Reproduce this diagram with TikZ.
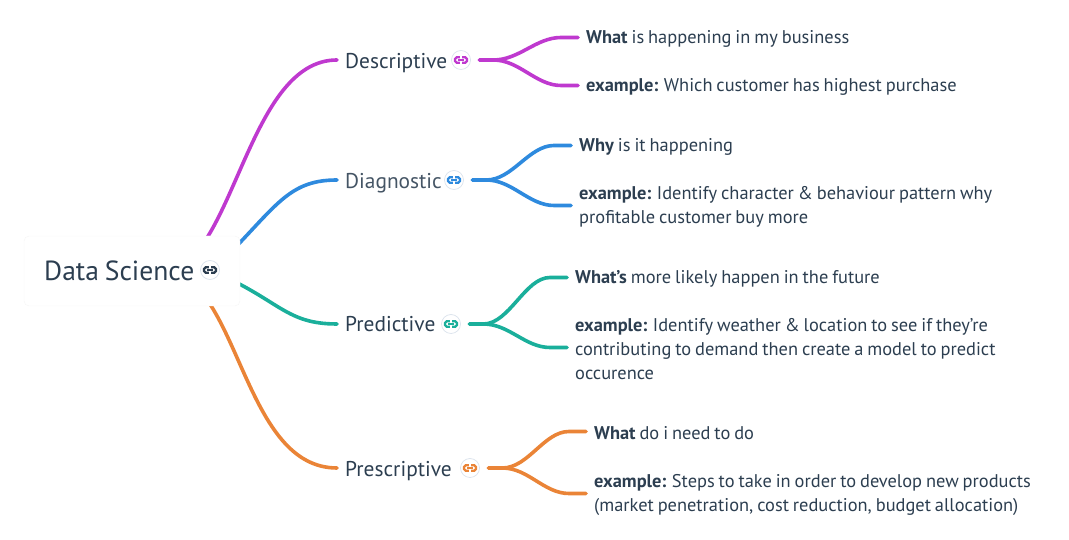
\documentclass[tikz,border=0pt]{standalone}
\usepackage{fontspec}
\setmainfont[WordSpace=0.8]{PT Sans}
\usetikzlibrary{positioning, calc, backgrounds}
\definecolor{msdark}{RGB}{44,62,80}
\definecolor{mspurple}{RGB}{191,57,207}
\definecolor{msblue}{RGB}{46,138,222}
\definecolor{msteal}{RGB}{26,175,155}
\definecolor{msorange}{RGB}{234,132,55}
\definecolor{msring}{RGB}{218,226,236}
\tikzset{
  rootbox/.style={fill=white, draw=black!4, rounded corners=5pt, minimum width=216pt, minimum height=70pt, inner sep=0pt},
  topic/.style={msdark, font=\fontsize{21.4}{25}\selectfont, anchor=west, inner sep=0pt},
  leaf/.style={msdark, font=\fontsize{18.4}{24}\selectfont, anchor=west, inner sep=0pt, align=left},
  branch/.style={line width=3.6pt, line cap=round},
  iconring/.style={circle, draw=msring, fill=white, line width=0.7pt, minimum size=19pt, inner sep=0pt}
}
% small chain icon on a ring
\newcommand{\linkicon}[3]{
  \node[iconring] (#1) at (#2) {};
  \draw[#3, line width=2.2pt, rounded corners=1.8pt] ($(#1)+(-1.2,2.8)$) -- ($(#1)+(-6,2.8)$) -- ($(#1)+(-6,-2.8)$) -- ($(#1)+(-1.2,-2.8)$);
  \draw[#3, line width=2.2pt, rounded corners=1.8pt] ($(#1)+(1.2,2.8)$) -- ($(#1)+(6,2.8)$) -- ($(#1)+(6,-2.8)$) -- ($(#1)+(1.2,-2.8)$);
  \draw[#3, line width=1.7pt] ($(#1)+(-2.6,0)$) -- ($(#1)+(2.6,0)$);
}
\begin{document}
\begin{tikzpicture}[x=1pt, y=1pt]
\useasboundingbox (0,0) rectangle (1069,540);

% root
\node[rootbox] (root) at (132,269) {};
\node[msdark, font=\fontsize{27.6}{30}\selectfont, anchor=west, inner sep=0pt] (rootlbl) at (44,269) {Data Science};
\linkicon{rooticon}{210,270}{msdark}

% ---- topics ----
\node[topic] (desc) at (345,477) {Descriptive};
\linkicon{descicon}{461,480}{mspurple}
\node[topic, msdark!88] (diag) at (345,357) {Diagnostic};
\linkicon{diagicon}{454,360}{msblue}
\node[topic] (pred) at (345,216) {Predictive};
\linkicon{predicon}{451,216}{msteal}
\node[topic] (pres) at (345,69) {Prescriptive};
\linkicon{presicon}{470,72}{msorange}

% ---- leaves ----
\node[leaf] (desca) at (586,501) {\textbf{What} is happening in my business};
\node[leaf] (descb) at (586,453) {\textbf{example:} Which customer has highest purchase};
\node[leaf] (diaga) at (579,393) {\textbf{Why} is it happening};
\node[leaf] (diagb) at (579,333) {\textbf{example:} Identify character \& behaviour pattern why\\profitable customer buy more};
\node[leaf] (preda) at (575,261) {\textbf{What's} more likely happen in the future};
\node[leaf] (predb) at (575,191) {\textbf{example:} Identify weather \& location to see if they're\\contributing to demand then create a model to predict\\occurence};
\node[leaf] (presa) at (594,107) {\textbf{What} do i need to do};
\node[leaf] (presb) at (594,45) {\textbf{example:} Steps to take in order to develop new products\\(market penetration, cost reduction, budget allocation)};

\begin{scope}[on background layer]
% root to topics
\draw[branch, mspurple] (root.center) ++(40,0) .. controls (235,290) and (250,480) .. ($(desc.west |- descicon)+(-8,0)$);
\draw[branch, msblue] (root.center) ++(80,0) .. controls (275,330) and (285,360) .. ($(diag.west |- diagicon)+(-8,0)$);
\draw[branch, msteal] (root.center) ++(80,0) .. controls (280,240) and (285,216) .. ($(pred.west |- predicon)+(-8,0)$);
\draw[branch, msorange] (root.center) ++(40,0) .. controls (240,250) and (245,72) .. ($(pres.west |- presicon)+(-8,0)$);
\end{scope}

% topics to leaves
\foreach \ic/\lfa/\lfb/\clr in {descicon/desca/descb/mspurple, diagicon/diaga/diagb/msblue, predicon/preda/predb/msteal, presicon/presa/presb/msorange}{
  \coordinate (hub) at ($(\ic.east)+(8.5,0)$);
  \draw[branch, \clr] (hub) -- ++(14,0) .. controls ++(26,0) and ($(\lfa.west)+(-50,1.5)$) .. ($(\lfa.west)+(-25,1.5)$) -- ($(\lfa.west)+(-8,1.5)$);
  \draw[branch, \clr] (hub) -- ++(14,0) .. controls ++(26,0) and ($(\lfb.west)+(-50,1.5)$) .. ($(\lfb.west)+(-25,1.5)$) -- ($(\lfb.west)+(-8,1.5)$);
}
\end{tikzpicture}
\end{document}
